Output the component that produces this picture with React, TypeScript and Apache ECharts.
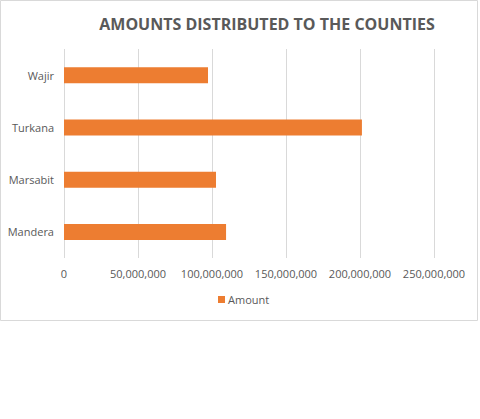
import React, { useEffect, useRef } from "react";
import * as echarts from "echarts";

const counties = ["Mandera", "Marsabit", "Turkana", "Wajir"];
const amounts = [109500000, 102700000, 201300000, 97300000];
const seriesName = "Amount";
const chartTitle = "AMOUNTS DISTRIBUTED TO THE COUNTIES";

const textColor = "#595959";
const barColor = "#ED7D31";
const fontFamily = "'Open Sans', 'Liberation Sans', sans-serif";

export default function App() {
  const ref = useRef<HTMLDivElement>(null);

  useEffect(() => {
    if (!ref.current) return;
    const chart = echarts.init(ref.current, undefined, { renderer: "svg" });
    chart.setOption({
      animation: false,
      backgroundColor: "#ffffff",
      textStyle: { fontFamily },
      title: {
        text: chartTitle,
        left: 262,
        top: 11,
        textAlign: "center",
        textStyle: {
          color: textColor,
          fontSize: 16,
          fontWeight: "bold",
          fontFamily,
        },
      },
      graphic: [
        {
          type: "rect",
          shape: { x: 0.5, y: 0.5, width: 477, height: 320 },
          style: { fill: "none", stroke: "#d9d9d9", lineWidth: 1 },
          silent: true,
        },
      ],
      legend: {
        data: [seriesName],
        left: 213,
        top: 289,
        itemWidth: 7,
        itemHeight: 7,
        itemGap: 4,
        icon: "rect",
        textStyle: { color: textColor, fontSize: 11, fontFamily, padding: [0, 0, 0, -2] },
      },
      grid: { left: 64, right: 46, top: 49, bottom: 161, containLabel: false },
      xAxis: {
        type: "value",
        min: 0,
        max: 250000000,
        interval: 50000000,
        axisLine: { show: false },
        axisTick: { show: false },
        splitLine: { lineStyle: { color: "#d9d9d9", width: 1 } },
        axisLabel: {
          color: textColor,
          fontSize: 11,
          margin: 10,
          formatter: (v: number) => v.toLocaleString("en-US"),
        },
      },
      yAxis: {
        type: "category",
        data: counties,
        axisLine: { show: false },
        axisTick: { show: false },
        axisLabel: { color: textColor, fontSize: 11, margin: 10 },
      },
      series: [
        {
          name: seriesName,
          type: "bar",
          data: amounts,
          barWidth: 16,
          itemStyle: { color: barColor },
        },
      ],
    });
    return () => chart.dispose();
  }, []);

  return (
    <div
      ref={ref}
      style={{ position: "fixed", left: 0, top: 0, width: 480, height: 419 }}
    />
  );
}
